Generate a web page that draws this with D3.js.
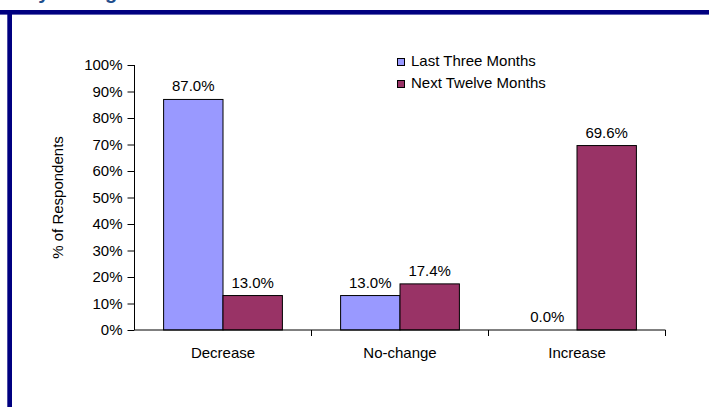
<!DOCTYPE html>
<html><head><meta charset="utf-8">
<script src="https://cdn.jsdelivr.net/npm/d3@7"></script>
<style>body{margin:0;background:#fff}svg{display:block}</style>
</head><body>
<svg id="c" width="709" height="407"></svg>
<script>
const categories = ["Decrease", "No-change", "Increase"];
const seriesNames = ["Last Three Months", "Next Twelve Months"];
const lastThree = [87.0, 13.0, 0.0];
const nextTwelve = [13.0, 17.4, 69.6];
const yTicks = [0,10,20,30,40,50,60,70,80,90,100];
const colors = ["#9999FF", "#993366"];

const svg = d3.select("#c");
const font = "Arial, 'Liberation Sans', sans-serif";
const fs = 15;

// frame decorations
svg.append("text").attr("x", 26).attr("y", -1).attr("font-family", font)
  .attr("font-weight", "bold").attr("font-size", 20).attr("fill", "#1F4E8C").text("by Change");
svg.append("rect").attr("x", 0).attr("y", 10).attr("width", 709).attr("height", 4.6).attr("fill", "#000080");
svg.append("rect").attr("x", 7.3).attr("y", 14).attr("width", 4.7).attr("height", 393).attr("fill", "#000080");

const L = 134.5, R = 665.5, T = 65, B = 330;
const x0 = d3.scaleBand().domain(categories).range([L, R]).paddingInner(0).paddingOuter(0);
const x1 = d3.scaleBand().domain(seriesNames).range([0, x0.bandwidth()]).paddingInner(0).paddingOuter(0.49);
const y = d3.scaleLinear().domain([0, 100]).range([B, T]);

// y axis
const yAxis = d3.axisLeft(y).tickValues(yTicks).tickFormat(d => d + "%").tickSize(7).tickPadding(5);
const ga = svg.append("g").attr("transform", `translate(${L},0)`).call(yAxis);
ga.select(".domain").attr("stroke", "#000").attr("d", `M0,${T}V${B}`);
ga.selectAll("text").attr("font-family", font).attr("font-size", fs).attr("fill", "#000");

// bars
const data = categories.map((c, i) => ({c, vals: [lastThree[i], nextTwelve[i]]}));
const g = svg.append("g");
data.forEach(d => {
  d.vals.forEach((v, j) => {
    const bx = x0(d.c) + x1(seriesNames[j]);
    if (v > 0) {
      g.append("rect").attr("x", bx).attr("y", y(v)).attr("width", x1.bandwidth())
        .attr("height", y(0) - y(v)).attr("fill", colors[j]).attr("stroke", "#000").attr("stroke-width", 1);
    }
    g.append("text").attr("x", bx + x1.bandwidth() / 2).attr("y", y(v) - 8)
      .attr("text-anchor", "middle").attr("font-family", font).attr("font-size", fs)
      .attr("fill", "#000").text(v.toFixed(1) + "%");
  });
});

// x axis
const xAxis = d3.axisBottom(x0).tickSize(0).tickPadding(17);
const gx = svg.append("g").attr("transform", `translate(0,${B})`).call(xAxis);
gx.select(".domain").attr("stroke", "#000").attr("d", `M${L},0H${R}`);
gx.selectAll("text").attr("font-family", font).attr("font-size", fs).attr("fill", "#000");
const tickXs = categories.map(c => x0(c) + x0.bandwidth());
gx.selectAll(".sep").data(tickXs).enter().append("line")
  .attr("x1", d => d).attr("x2", d => d).attr("y1", 0).attr("y2", 6).attr("stroke", "#000");

// y title
svg.append("text").attr("transform", `translate(63,${(T + B) / 2}) rotate(-90)`)
  .attr("text-anchor", "middle").attr("font-family", font).attr("font-size", fs)
  .attr("fill", "#000").text("% of Respondents");

// legend
const lg = svg.append("g");
seriesNames.forEach((s, i) => {
  const ly = 66 + i * 22;
  lg.append("rect").attr("x", 397.5).attr("y", ly - 7.5).attr("width", 7).attr("height", 7)
    .attr("fill", colors[i]).attr("stroke", "#000").attr("stroke-width", 1);
  lg.append("text").attr("x", 411).attr("y", ly).attr("font-family", font).attr("font-size", fs)
    .attr("fill", "#000").text(s);
});
</script>
</body></html>
